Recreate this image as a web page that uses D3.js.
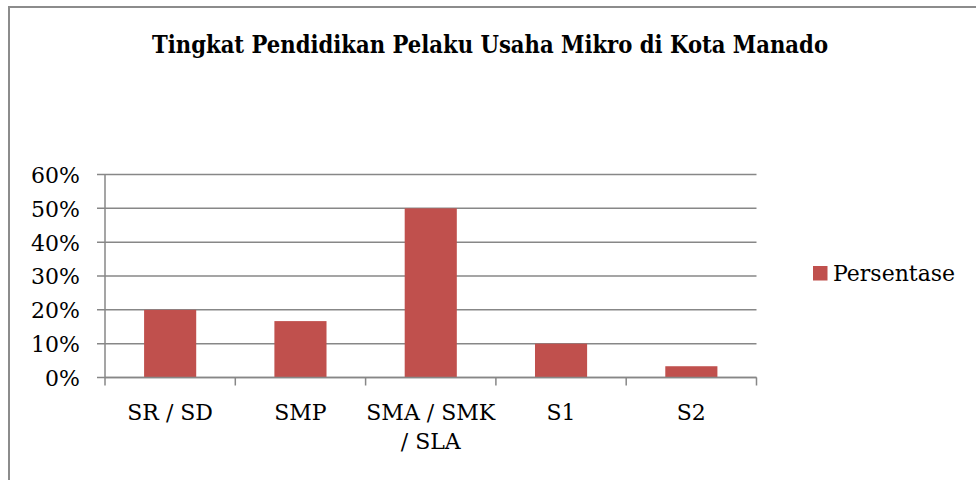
<!DOCTYPE html>
<html>
<head>
<meta charset="utf-8">
<script src="https://cdn.jsdelivr.net/npm/d3@7"></script>
<style>
html,body{margin:0;padding:0;background:#fff;}
svg{display:block;}
</style>
</head>
<body>
<script>
const title = "Tingkat Pendidikan Pelaku Usaha Mikro di Kota Manado";
const categories = ["SR / SD", "SMP", "SMA / SMK / SLA", "S1", "S2"];
const values = [0.20, 0.1667, 0.50, 0.10, 0.0333];
const seriesName = "Persentase";
const yTicks = [0, 0.1, 0.2, 0.3, 0.4, 0.5, 0.6];

const W = 976, H = 480;
const svg = d3.select("body").append("svg").attr("width", W).attr("height", H);
const font = "'DejaVu Serif', serif";
const gridColor = "#878787";
const barColor = "#C0504D";

// outer chart border (right/bottom run off the picture)
svg.append("rect").attr("x", 9).attr("y", 7).attr("width", W + 10).attr("height", H + 10)
  .attr("fill", "none").attr("stroke", "#8c8c8c").attr("stroke-width", 2);

// title
svg.append("text").attr("x", 490).attr("y", 53).attr("text-anchor", "middle")
  .attr("font-family", font).attr("font-weight", "bold").attr("font-size", 24)
  .attr("textLength", 676).attr("lengthAdjust", "spacingAndGlyphs")
  .attr("fill", "#000").text(title);

const x = d3.scaleBand().domain(categories).range([105, 756.5]).paddingInner(0.6).paddingOuter(0.3);
const y = d3.scaleLinear().domain([0, 0.6]).range([377.5, 174.5]);

// gridlines
svg.append("g").selectAll("line").data(yTicks).join("line")
  .attr("x1", 97).attr("x2", 756.5)
  .attr("y1", d => y(d)).attr("y2", d => y(d))
  .attr("stroke", gridColor).attr("stroke-width", 1.5);

// y axis line
svg.append("line").attr("x1", 105).attr("x2", 105).attr("y1", y(0.6)).attr("y2", y(0))
  .attr("stroke", gridColor).attr("stroke-width", 1.5);

// y labels
const yAxis = d3.axisLeft(y).tickValues(yTicks).tickFormat(d3.format(".0%")).tickSize(0).tickPadding(0);
const gy = svg.append("g").attr("transform", "translate(80,0)").call(yAxis);
gy.select(".domain").remove();
gy.selectAll("text").attr("font-family", font).attr("font-size", 22).attr("fill", "#000").attr("dy", "0.36em");

// bars
svg.append("g").selectAll("rect").data(categories).join("rect")
  .attr("x", d => x(d)).attr("width", x.bandwidth())
  .attr("y", (d, i) => y(values[i])).attr("height", (d, i) => y(0) - y(values[i]))
  .attr("fill", barColor);

// x axis line and ticks on band boundaries
svg.append("line").attr("x1", 105).attr("x2", 756.5).attr("y1", y(0)).attr("y2", y(0))
  .attr("stroke", gridColor).attr("stroke-width", 1.5);
const bounds = d3.range(categories.length + 1).map(i => 105 + i * (756.5 - 105) / categories.length);
svg.append("g").selectAll("line").data(bounds).join("line")
  .attr("x1", d => d).attr("x2", d => d).attr("y1", y(0)).attr("y2", y(0) + 8)
  .attr("stroke", gridColor).attr("stroke-width", 1.5);

// category labels with wrapping
const gx = svg.append("g");
categories.forEach(c => {
  const cx = x(c) + x.bandwidth() / 2;
  const t = gx.append("text").attr("x", cx).attr("y", 420).attr("text-anchor", "middle")
    .attr("font-family", font).attr("font-size", 22).attr("fill", "#000");
  const words = c.split(" ");
  let line = [];
  let ts = t.append("tspan").attr("x", cx).attr("dy", 0);
  words.forEach(w => {
    line.push(w);
    ts.text(line.join(" "));
    if (ts.node().getComputedTextLength() > 136 && line.length > 1) {
      line.pop();
      ts.text(line.join(" "));
      line = [w];
      ts = t.append("tspan").attr("x", cx).attr("dy", 29).text(w);
    }
  });
});

// legend
svg.append("rect").attr("x", 813).attr("y", 266).attr("width", 14.5).attr("height", 14.5).attr("fill", barColor);
svg.append("text").attr("x", 833).attr("y", 281).attr("font-family", font).attr("font-size", 22)
  .attr("fill", "#000").text(seriesName);
</script>
</body>
</html>
